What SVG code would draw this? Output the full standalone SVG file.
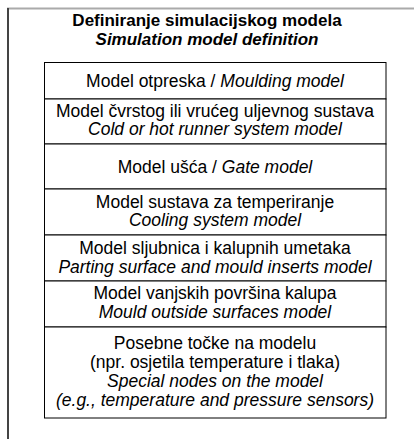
<svg xmlns="http://www.w3.org/2000/svg" width="416" height="439" viewBox="0 0 416 439">
<style>
text{font-family:"Liberation Sans",Arial,sans-serif;font-size:17.5px;fill:#000;text-anchor:middle}
.t{font-weight:bold;font-size:17px}
.i{font-style:italic}
.box{fill:#fff;stroke:#000;stroke-width:1}
</style>
<rect width="416" height="439" fill="#fff"/>
<g id="frame">
<line x1="7" y1="8.5" x2="414" y2="8.5" stroke="#aaa" stroke-width="2"/>
<line x1="8" y1="8" x2="8" y2="439" stroke="#444" stroke-width="2"/>
</g>
<g id="title">
<text class="t" x="207" y="25.5">Definiranje simulacijskog modela</text>
<text class="t i" x="207" y="44.5">Simulation model definition</text>
</g>
<g id="n1"><rect class="box" x="44.5" y="62.5" width="341.5" height="36.5"/>
<text x="215" y="87">Model otpreska / <tspan class="i">Moulding model</tspan></text></g>
<g id="n2"><rect class="box" x="44.5" y="99" width="341.5" height="45"/>
<text x="215" y="117">Model čvrstog ili vrućeg uljevnog sustava</text>
<text class="i" x="215" y="135">Cold or hot runner system model</text></g>
<g id="n3"><rect class="box" x="44.5" y="144" width="341.5" height="45"/>
<text x="215" y="172.5">Model ušća / <tspan class="i">Gate model</tspan></text></g>
<g id="n4"><rect class="box" x="44.5" y="189" width="341.5" height="46"/>
<text x="215" y="208">Model sustava za temperiranje</text>
<text class="i" x="215" y="226">Cooling system model</text></g>
<g id="n5"><rect class="box" x="44.5" y="235" width="341.5" height="46"/>
<text x="215" y="254">Model sljubnica i kalupnih umetaka</text>
<text class="i" x="215" y="272.5">Parting surface and mould inserts model</text></g>
<g id="n6"><rect class="box" x="44.5" y="281" width="341.5" height="46"/>
<text x="215" y="299">Model vanjskih površina kalupa</text>
<text class="i" x="215" y="317.5">Mould outside surfaces model</text></g>
<g id="n7"><rect class="box" x="44.5" y="327" width="341.5" height="91"/>
<text x="215" y="349">Posebne točke na modelu</text>
<text x="215" y="368">(npr. osjetila temperature i tlaka)</text>
<text class="i" x="215" y="387">Special nodes on the model</text>
<text class="i" x="215" y="406">(e.g., temperature and pressure sensors)</text></g>
<g id="connectors"></g>
</svg>
